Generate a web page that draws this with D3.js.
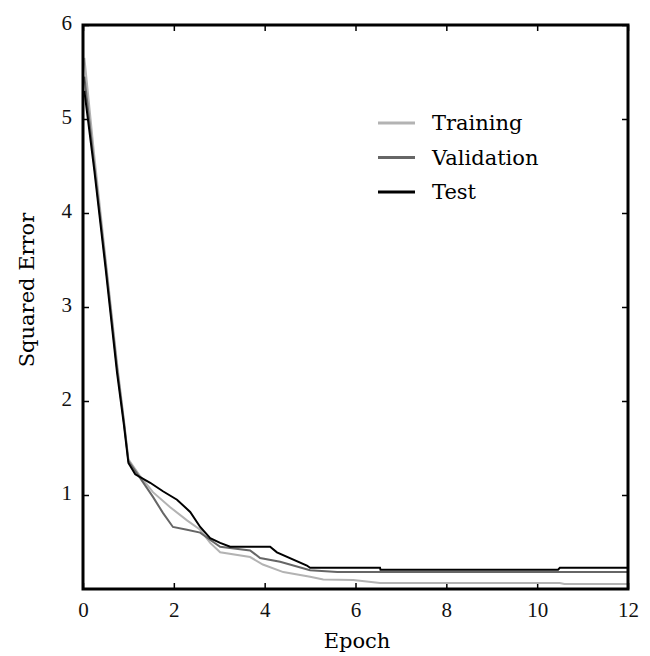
<!DOCTYPE html>
<html>
<head>
<meta charset="utf-8">
<script src="https://cdn.jsdelivr.net/npm/d3@7"></script>
<style>
  body { margin: 0; background: #fff; }
  .tick line { stroke: #000; stroke-width: 1.5px; }
  .label { font-family: "DejaVu Serif", serif; font-size: 21px; fill: #000; }
</style>
</head>
<body>
<script>
// data: [epoch, squared error]
var training = [[0.03,5.65],[0.25,4.6],[0.5,3.5],[0.75,2.4],[0.9,1.8],[1.0,1.38],[1.26,1.2],[1.54,1.03],
    [1.92,0.87],[2.29,0.73],[2.58,0.63],[2.8,0.49],[3.02,0.39],[3.68,0.34],[3.96,0.26],[4.41,0.18],
    [5.0,0.13],[5.29,0.1],[5.95,0.096],[6.54,0.064],[10.5,0.064],[10.6,0.053],[12,0.053]];
var validation = [[0.03,5.45],[0.25,4.5],[0.5,3.45],[0.75,2.35],[0.9,1.78],[1.0,1.36],[1.26,1.18],[1.54,0.98],
    [1.76,0.81],[1.98,0.66],[2.29,0.63],[2.58,0.6],[2.75,0.54],[3.02,0.45],[3.68,0.41],[3.9,0.33],
    [4.34,0.29],[5.0,0.2],[5.6,0.18],[12,0.18]];
var test = [[0.03,5.3],[0.25,4.45],[0.5,3.4],[0.75,2.3],[0.9,1.75],[1.0,1.34],[1.15,1.22],[1.48,1.13],
    [1.76,1.04],[2.07,0.95],[2.36,0.82],[2.58,0.66],[2.8,0.54],[3.02,0.49],[3.24,0.45],[4.12,0.45],
    [4.27,0.39],[4.93,0.25],[5.0,0.225],[6.54,0.225],[6.55,0.205],[10.46,0.205],[10.5,0.225],[12,0.225]];
var seriesNames = ["Training", "Validation", "Test"];
var seriesColors = ["#b3b3b3", "#666666", "#000000"];
var xTicks = [0, 2, 4, 6, 8, 10, 12];
var yTicks = [1, 2, 3, 4, 5, 6];

var w = 650, h = 656;
var svg = d3.select("body").append("svg")
    .attr("width", w)
    .attr("height", h);

var x = d3.scaleLinear().domain([0, 12]).range([83, 628]);
var y = d3.scaleLinear().domain([0, 6]).range([589, 25]);
var fmt = d3.format("d");

function styleTicks(g) {
    g.select(".domain").remove();
    g.selectAll("text")
        .style("font-family", "'Liberation Serif', 'Times New Roman', serif")
        .style("font-size", "21px")
        .attr("fill", "#111");
}

// axes, ticks pointing inwards
svg.append("g")
    .attr("transform", "translate(0,589)")
    .call(d3.axisBottom(x).tickValues(xTicks).tickSize(-6).tickSizeOuter(0).tickPadding(13).tickFormat(fmt))
    .call(styleTicks);
svg.append("g")
    .attr("transform", "translate(0,25)")
    .call(d3.axisTop(x).tickValues(xTicks).tickSize(-6).tickSizeOuter(0).tickFormat(""))
    .call(styleTicks);
svg.append("g")
    .attr("transform", "translate(83,0)")
    .call(d3.axisLeft(y).tickValues(yTicks).tickSize(-6).tickSizeOuter(0).tickPadding(11).tickFormat(fmt))
    .call(styleTicks)
    .call(g => g.selectAll("text").attr("dy", "0.22em"));
svg.append("g")
    .attr("transform", "translate(628,0)")
    .call(d3.axisRight(y).tickValues(yTicks).tickSize(-6).tickSizeOuter(0).tickFormat(""))
    .call(styleTicks);

// lines
var line = d3.line()
    .x(d => x(d[0]))
    .y(d => y(d[1]));

[training, validation, test].forEach(function (data, i) {
    svg.append("path")
        .datum(data)
        .attr("d", line)
        .attr("fill", "none")
        .attr("stroke", seriesColors[i])
        .attr("stroke-width", 2);
});

// frame
svg.append("rect")
    .attr("x", x(0))
    .attr("y", y(6))
    .attr("width", x(12) - x(0))
    .attr("height", y(0) - y(6))
    .attr("fill", "none")
    .attr("stroke", "#000")
    .attr("stroke-width", 3);

// legend
var legend = svg.append("g");
seriesNames.forEach(function (name, i) {
    var ly = 123 + i * 34.5;
    legend.append("line")
        .attr("x1", 378).attr("x2", 415)
        .attr("y1", ly).attr("y2", ly)
        .attr("stroke", seriesColors[i])
        .attr("stroke-width", 3);
    legend.append("text")
        .attr("class", "label")
        .attr("x", 432)
        .attr("y", ly + 7)
        .text(name);
});

// axis titles
svg.append("text")
    .attr("class", "label")
    .attr("x", 357)
    .attr("y", 648)
    .attr("text-anchor", "middle")
    .text("Epoch");

svg.append("text")
    .attr("class", "label")
    .attr("transform", "translate(34,290) rotate(-90)")
    .attr("text-anchor", "middle")
    .text("Squared Error");
</script>
</body>
</html>
